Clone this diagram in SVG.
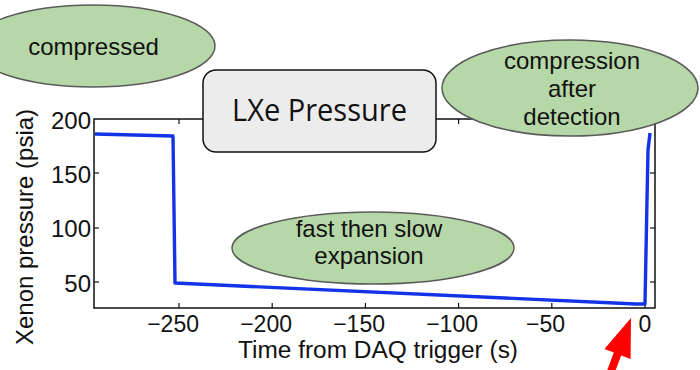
<svg xmlns="http://www.w3.org/2000/svg" width="700" height="370" viewBox="0 0 700 370">
<style>
.lbl{font-family:"Liberation Sans",Arial,sans-serif;font-size:24px;fill:#111}
.mid{text-anchor:middle}
.end{text-anchor:end}
.bub{fill:#b6d7a8;stroke:#5a5a5a;stroke-width:1.5}
.ax{fill:none;stroke:#111;stroke-width:1.5}
.tk{stroke:#111;stroke-width:1.2}
</style>
<rect width="700" height="370" fill="#fff"/>
<g id="plot">
  <rect class="ax" x="94" y="119" width="561" height="189"/>
  <g class="tk">
    <line x1="179" y1="308" x2="179" y2="303"/><line x1="179" y1="119" x2="179" y2="124"/>
    <line x1="272.2" y1="308" x2="272.2" y2="303"/><line x1="272.2" y1="119" x2="272.2" y2="124"/>
    <line x1="365.4" y1="308" x2="365.4" y2="303"/><line x1="365.4" y1="119" x2="365.4" y2="124"/>
    <line x1="458.6" y1="308" x2="458.6" y2="303"/><line x1="458.6" y1="119" x2="458.6" y2="124"/>
    <line x1="551.8" y1="308" x2="551.8" y2="303"/><line x1="551.8" y1="119" x2="551.8" y2="124"/>
    <line x1="645" y1="308" x2="645" y2="303"/><line x1="645" y1="119" x2="645" y2="124"/>
    <line x1="94" y1="173" x2="99" y2="173"/><line x1="655" y1="173" x2="650" y2="173"/>
    <line x1="94" y1="228" x2="99" y2="228"/><line x1="655" y1="228" x2="650" y2="228"/>
    <line x1="94" y1="282" x2="99" y2="282"/><line x1="655" y1="282" x2="650" y2="282"/>
  </g>
  <path d="M95,134 L173,136 L175,283 L636,304 L645,304 L647,200 L648,150 L650,133" fill="none" stroke="#1432e6" stroke-width="3.4" stroke-linejoin="round"/>
  <text class="lbl end" x="91" y="129">200</text>
  <text class="lbl end" x="91" y="183">150</text>
  <text class="lbl end" x="91" y="237">100</text>
  <text class="lbl end" x="91" y="292">50</text>
  <g font-size="23">
  <text class="lbl end" x="199" y="332" style="font-size:23px">−250</text>
  <text class="lbl end" x="292" y="332" style="font-size:23px">−200</text>
  <text class="lbl end" x="385" y="332" style="font-size:23px">−150</text>
  <text class="lbl end" x="478" y="332" style="font-size:23px">−100</text>
  <text class="lbl end" x="565" y="332" style="font-size:23px">−50</text>
  <text class="lbl mid" x="645" y="332" style="font-size:23px">0</text>
  </g>
  <text class="lbl mid" x="378" y="358" style="font-size:23px" textLength="280" lengthAdjust="spacingAndGlyphs">Time from DAQ trigger (s)</text>
  <text class="lbl mid" transform="translate(33,227) rotate(-90)">Xenon pressure (psia)</text>
</g>
<g id="title">
  <rect x="203" y="70" width="233" height="82" rx="13" fill="#ececec" stroke="#111" stroke-width="1.5"/>
  <text x="319.5" y="121" text-anchor="middle" font-family="'Open Sans','Noto Sans',sans-serif" font-size="31" fill="#111" textLength="175" lengthAdjust="spacingAndGlyphs">LXe Pressure</text>
</g>
<g id="compressed">
  <ellipse class="bub" cx="93" cy="46" rx="122" ry="41"/>
  <text class="lbl mid" x="93.5" y="55">compressed</text>
</g>
<g id="compression-after-detection">
  <ellipse class="bub" cx="570" cy="88" rx="128" ry="48"/>
  <text class="lbl mid" x="572" y="69">compression</text>
  <text class="lbl mid" x="572" y="97">after</text>
  <text class="lbl mid" x="572" y="125">detection</text>
</g>
<g id="expansion">
  <ellipse class="bub" cx="373" cy="248" rx="141" ry="36"/>
  <text class="lbl mid" x="369" y="237">fast then slow</text>
  <text class="lbl mid" x="369" y="264">expansion</text>
</g>
<g id="connectors">
  <polygon points="631,318 630.6,358.9 621.2,355.4 614.2,374.1 606.8,371.3 613.8,352.6 604.4,349.1" fill="#ff0000"/>
</g>
</svg>
